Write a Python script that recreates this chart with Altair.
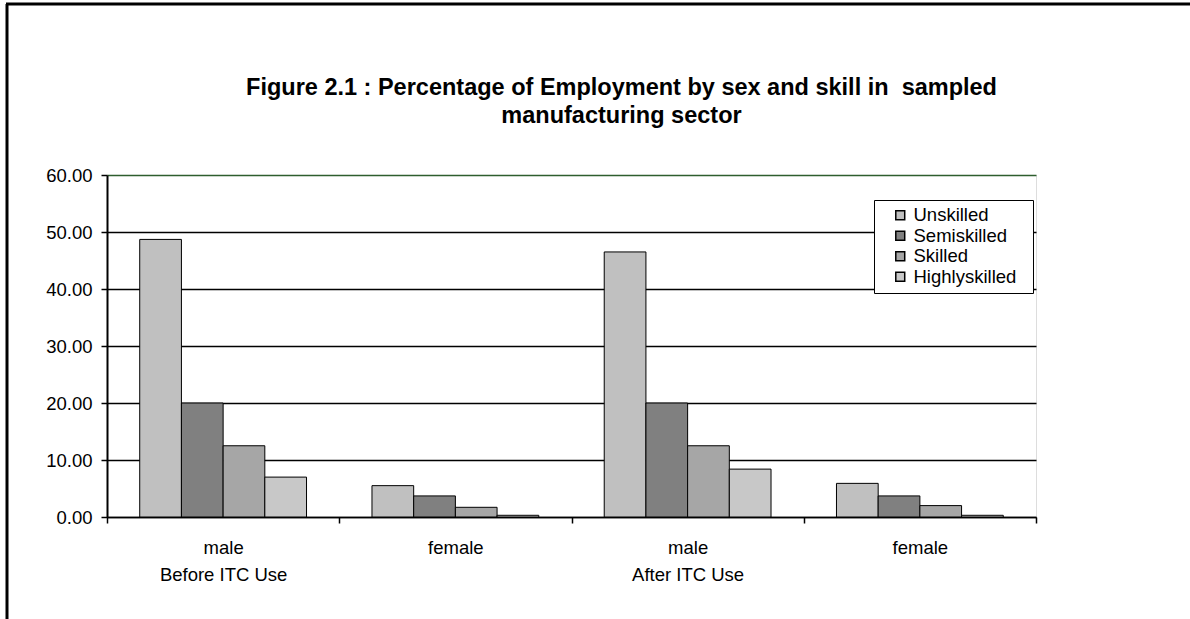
import altair as alt
import pandas as pd

# ---- data ----
group_keys = ["male_before", "female_before", "male_after", "female_after"]
skills = ["Unskilled", "Semiskilled", "Skilled", "Highlyskilled"]
unskilled = [48.7, 5.5, 46.5, 5.9]
semiskilled = [20.0, 3.7, 20.0, 3.7]
skilled = [12.5, 1.7, 12.5, 2.0]
highlyskilled = [7.0, 0.3, 8.4, 0.3]
colors = ["#C0C0C0", "#808080", "#A6A6A6", "#C8C8C8"]
y_ticks = [0, 10, 20, 30, 40, 50, 60]

series = [unskilled, semiskilled, skilled, highlyskilled]
rows = []
for s, vals in zip(skills, series):
    for g, v in zip(group_keys, vals):
        rows.append({"group": g, "skill": s, "value": v})
df = pd.DataFrame(rows)

FONT = "Liberation Sans"
GREEN = "#2E5E2E"

label_expr = (
    "datum.value == 'male_before' ? ['male', 'Before ITC Use'] : "
    "datum.value == 'male_after' ? ['male', 'After ITC Use'] : "
    "(datum.value == 'female_before' || datum.value == 'female_after') ? 'female' : ''"
)

bars = alt.Chart(df).mark_bar(stroke="black", strokeWidth=1).encode(
    x=alt.X(
        "group:N",
        sort=group_keys,
        title=None,
        scale=alt.Scale(paddingInner=0, paddingOuter=0),
        axis=alt.Axis(
            labelExpr=label_expr,
            labelAngle=0,
            tickBand="extent",
            tickSize=6,
            tickColor="black",
            tickWidth=1.5,
            domainColor="black",
            domainWidth=1.5,
            labelFontSize=18.5,
            labelFont=FONT,
            labelColor="black",
            labelPadding=15,
            labelLineHeight=27,
            grid=False,
        ),
    ),
    xOffset=alt.XOffset(
        "skill:N", sort=skills,
        scale=alt.Scale(paddingInner=0, paddingOuter=0.785),
    ),
    y=alt.Y(
        "value:Q",
        title=None,
        scale=alt.Scale(domain=[0, 60], nice=False),
        axis=alt.Axis(
            values=y_ticks,
            format=".2f",
            tickSize=6,
            tickColor="black",
            tickWidth=1.5,
            domainColor="black",
            domainWidth=2,
            gridColor={"condition": {"test": "datum.value == 60", "value": GREEN},
                       "value": "black"},
            gridWidth=1.5,
            labelFontSize=18.5,
            labelFont=FONT,
            labelColor="black",
            labelPadding=9,
        ),
    ),
    color=alt.Color(
        "skill:N",
        sort=skills,
        scale=alt.Scale(domain=skills, range=colors),
        legend=alt.Legend(
            title=None,
            orient="none",
            legendX=767,
            legendY=25,
            fillColor="white",
            strokeColor="black",
            padding=6,
            symbolOffset=11,
            symbolType="square",
            symbolSize=80,
            symbolStrokeColor="black",
            symbolStrokeWidth=1.5,
            labelFontSize=18.5,
            labelFont=FONT,
            labelColor="black",
            labelLimit=300,
            labelOffset=4,
            labelExpr="datum.label + '\u00a0\u00a0\u200b'",
            rowPadding=1.5,
        ),
    ),
)

frame_df = pd.DataFrame({"a": [0]})
frame_left = alt.Chart(frame_df).mark_rule(color="black", strokeWidth=3, clip=False).encode(
    x=alt.value(-100), y=alt.value(-171), y2=alt.value(450)
)
frame_top = alt.Chart(frame_df).mark_rule(color="black", strokeWidth=3, clip=False).encode(
    x=alt.value(-101), x2=alt.value(1090), y=alt.value(-171)
)

chart = alt.layer(bars, frame_left, frame_top).properties(
    width=929,
    height=342,
    autosize=alt.AutoSizeParams(type="none"),
    padding={"left": 107, "top": 175, "right": 154, "bottom": 102},
    title=alt.Title(
        ["Figure 2.1 : Percentage of Employment by sex and skill in\u00a0 sampled",
         "manufacturing sector"],
        font=FONT,
        fontSize=23.5,
        fontWeight="bold",
        color="black",
        anchor="middle",
        baseline="bottom",
        dx=50,
        dy=149,
        lineHeight=28,
        offset=0,
    ),
).configure_view(
    stroke=GREEN, strokeWidth=2
).configure(background="white")

chart.save("out.html", embed_options={"renderer": "svg", "actions": False})
